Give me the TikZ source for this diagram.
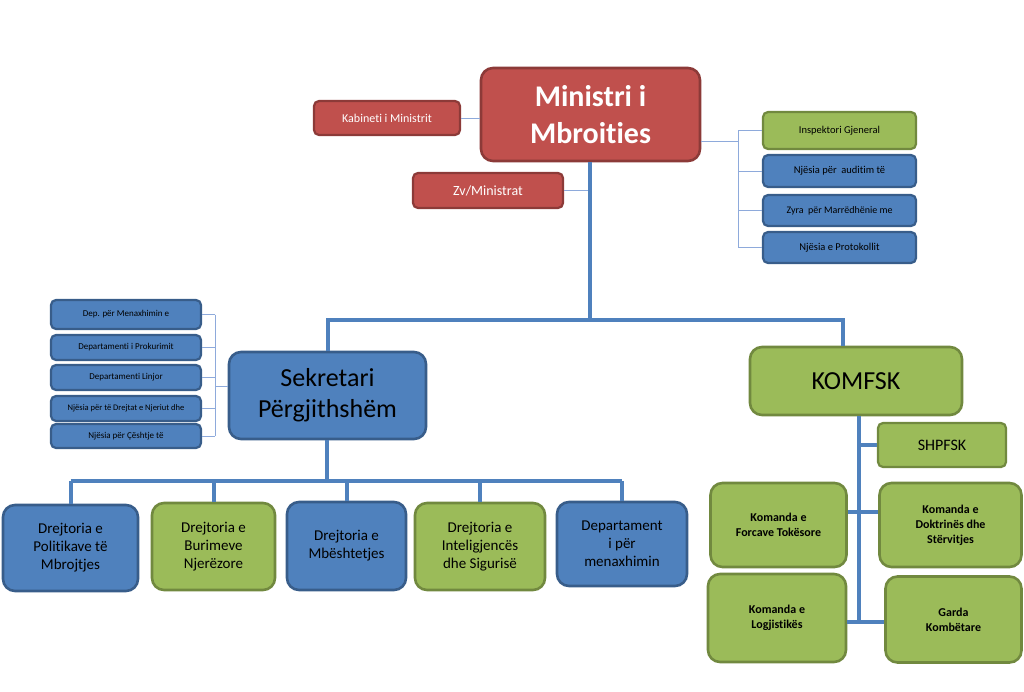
\documentclass[tikz,border=0pt]{standalone}
\usepackage{fontspec}
\setmainfont{Carlito}[Ligatures=NoCommon]
\definecolor{rfill}{HTML}{C0504D}
\definecolor{rline}{HTML}{8C3A38}
\definecolor{bfill}{HTML}{4F81BD}
\definecolor{bline}{HTML}{385D8A}
\definecolor{gfill}{HTML}{9BBB59}
\definecolor{gline}{HTML}{71893F}
\definecolor{thinc}{HTML}{8EAADB}
\begin{document}
\begin{tikzpicture}[x=1pt,y=-1pt,
  box/.style={rectangle,rounded corners=5pt,line width=2.2pt,align=center,inner sep=1pt,text=black},
  bigbox/.style={box,rounded corners=12pt,line width=2.6pt},
  redb/.style={fill=rfill,draw=rline},
  blueb/.style={fill=bfill,draw=bline},
  greenb/.style={fill=gfill,draw=gline},
  thick/.style={draw=bfill,line width=4pt},
  thin/.style={draw=thinc,line width=1pt},
  fs/.style={font=\fontsize{#1}{1.2\dimexpr#1pt\relax}\selectfont},
  fb/.style={font=\fontsize{#1}{1.25\dimexpr#1pt\relax}\selectfont\bfseries}
]
\useasboundingbox (0,0) rectangle (1024,691);
% top
\node[bigbox,redb,minimum width=219pt,minimum height=93pt,text=white,fb=30] (min) at (590.5,114.5) {Ministri i\\Mbroities};
\node[box,redb,minimum width=146pt,minimum height=34pt,text=white,fs=12] (kab) at (387,118) {Kabineti i Ministrit};
\node[box,redb,minimum width=150pt,minimum height=35pt,text=white,fs=14] (zv) at (488,190.5) {Zv/Ministrat};
% right units
\node[box,greenb,minimum width=153pt,minimum height=37pt,fs=10.5] (insp) at (839.5,130.5) {Inspektori Gjeneral};
\node[box,blueb,minimum width=153pt,minimum height=32pt,fs=10.5] (aud) at (839.5,171) {Njësia për\ \ auditim të};
\node[box,blueb,minimum width=153pt,minimum height=31pt,fs=10] (zyra) at (839.5,210.5) {Zyra\ \ për Marrëdhënie me};
\node[box,blueb,minimum width=153pt,minimum height=31pt,fs=10.5] (prot) at (839.5,247.5) {Njësia e Protokollit};
% second level
\node[bigbox,blueb,minimum width=197pt,minimum height=87pt,fs=26] (sek) at (327.5,395.5) {Sekretari\\Përgjithshëm};
\node[bigbox,greenb,minimum width=212pt,minimum height=68pt,fs=26] (komf) at (856,381) {KOMFSK};
% left column
\node[box,blueb,minimum width=150pt,minimum height=29pt,fs=9] (l1) at (126,314.5) {Dep. për Menaxhimin e};
\node[box,blueb,minimum width=150pt,minimum height=25pt,fs=9] (l2) at (126,347.5) {Departamenti i Prokurimit};
\node[box,blueb,minimum width=150pt,minimum height=25pt,fs=9] (l3) at (126,377.5) {Departamenti Linjor};
\node[box,blueb,minimum width=150pt,minimum height=25pt,fs=8.5] (l4) at (126,408.5) {Njësia për të Drejtat e Njeriut dhe};
\node[box,blueb,minimum width=150pt,minimum height=24pt,fs=9] (l5) at (126,436) {Njësia për Çështje të};
% bottom directorates
\node[bigbox,blueb,minimum width=135pt,minimum height=86pt,fs=15] (b1) at (70.5,548) {Drejtoria e\\Politikave të\\Mbrojtjes};
\node[bigbox,greenb,minimum width=123pt,minimum height=87pt,fs=15] (b2) at (213.5,546.5) {Drejtoria e\\Burimeve\\Njerëzore};
\node[bigbox,blueb,minimum width=119pt,minimum height=88pt,fs=15] (b3) at (346.5,546) {Drejtoria e\\Mbështetjes};
\node[bigbox,greenb,minimum width=130pt,minimum height=87pt,fs=15] (b4) at (480,546.5) {Drejtoria e\\Inteligjencës\\dhe Sigurisë};
\node[bigbox,blueb,minimum width=130pt,minimum height=84pt,fs=15] (b5) at (622,544) {Departament\\i për\\menaxhimin};
% KOMFSK units
\node[box,greenb,minimum width=128pt,minimum height=44pt,fs=16] (shp) at (942,445) {SHPFSK};
\node[bigbox,greenb,minimum width=136pt,minimum height=84pt,fb=12] (kft) at (778.5,525) {Komanda e\\Forcave Tokësore};
\node[bigbox,greenb,minimum width=142pt,minimum height=84pt,fb=12] (kds) at (950.5,525) {Komanda e\\Doktrinës dhe\\Stërvitjes};
\node[bigbox,greenb,minimum width=138pt,minimum height=88pt,fb=12] (klog) at (777,618) {Komanda e\\Logjistikës};
\node[bigbox,greenb,minimum width=136pt,minimum height=86pt,fb=12] (gk) at (953.5,619.5) {Garda\\Kombëtare};
% coordinates
\coordinate (j1) at (590,320);
\coordinate (kd) at (843,320);
\coordinate (rb) at (738,141);
\coordinate (lb) at (215,386);
\coordinate (sb) at (327,481);
\coordinate (kv) at (859,622);
\coordinate (k1) at (859,512);
% thin connectors
\draw[thin] (kab.east) -- (min.west |- kab.east);
\draw[thin] (zv.east) -- (j1 |- zv.east);
\draw[thin] (min.east |- rb) -- (rb);
\draw[thin] (rb |- insp.west) -- (rb |- prot.west);
\foreach \n in {insp,aud,zyra,prot} \draw[thin] (rb |- \n.west) -- (\n.west);
\draw[thin] (lb) -- (sek.west |- lb);
\draw[thin] (lb |- l1.east) -- (lb |- l5.east);
\foreach \n in {l1,l2,l3,l4,l5} \draw[thin] (lb |- \n.east) -- (\n.east);
% thick connectors
\draw[thick] (min.south -| j1) -- (j1);
\draw[thick] (sek.north) -- (sek.north |- j1) -- (kd) -- (kd |- komf.north);
\draw[thick] (sek.south -| sb) -- (sb);
\draw[thick] (b1.north |- sb) -- (b5.north |- sb);
\foreach \n in {b1,b2,b3,b4,b5} \draw[thick] (\n.north |- sb) -- (\n.north);
\draw[thick] (kv |- komf.south) -- (kv);
\draw[thick] (kv |- shp.west) -- (shp.west);
\draw[thick] (kft.east |- k1) -- (kds.west |- k1);
\draw[thick] (klog.east |- kv) -- (gk.west |- kv);
\end{tikzpicture}
\end{document}
